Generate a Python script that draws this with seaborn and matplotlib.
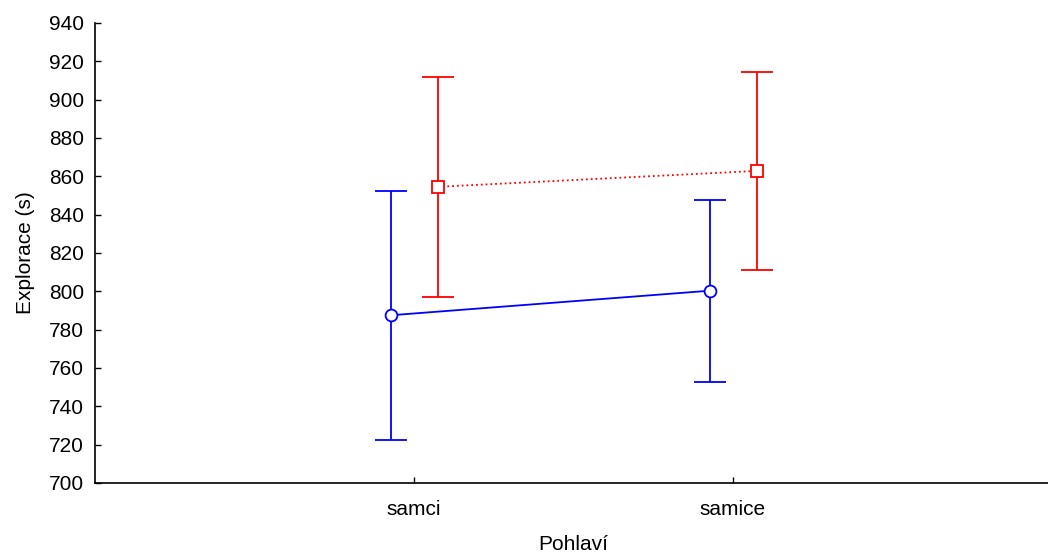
import matplotlib
matplotlib.use("Agg")
import matplotlib.pyplot as plt
import seaborn as sns
import pandas as pd
import numpy as np

# Group means and error half-widths per sex
categories = ["samci", "samice"]
blue_mean = [787.5, 800.3]
blue_err = [65.0, 47.5]
red_mean = [854.5, 862.8]
red_err = [57.3, 51.7]

sns.set_theme(style="ticks")
plt.rcParams["font.family"] = ["Liberation Sans", "DejaVu Sans"]

fig = plt.figure(figsize=(10.48, 5.59), dpi=100)
ax = fig.add_axes([0.0906, 0.136, 0.913, 0.823])

xpos = np.arange(len(categories))
series = [
    ("A", blue_mean, blue_err, -0.072, "#0000ff", "o", "-"),
    ("B", red_mean, red_err, 0.075, "#ff0000", "s", ":"),
]

for name, mean, err, off, color, marker, ls in series:
    df = pd.DataFrame({"x": xpos + off, "y": mean})
    ax.errorbar(df["x"], df["y"], yerr=err, fmt="none", ecolor=color,
                elinewidth=1.3, capsize=11.5, capthick=1.3, zorder=2)
    sns.lineplot(data=df, x="x", y="y", ax=ax, color=color, linestyle=ls,
                 linewidth=1.3, marker=marker, markersize=8.5 if marker == "o" else 8,
                 markerfacecolor="white", markeredgecolor=color,
                 markeredgewidth=1.3, zorder=3)

ax.set_xlim(-1, 2)
ax.set_ylim(700, 940)
ax.set_yticks(np.arange(700, 941, 20))
ax.set_xticks(xpos)
ax.set_xticklabels(categories)
ax.tick_params(axis="both", labelsize=15, colors="black", length=4, width=1,
               direction="in")
ax.tick_params(axis="y", pad=8)
ax.tick_params(axis="x", pad=12)
ax.set_xlabel("Pohlaví", fontsize=15, labelpad=12, color="black")
ax.set_ylabel("Explorace (s)", fontsize=15, labelpad=10, color="black")
for s in ["top", "right"]:
    ax.spines[s].set_visible(False)
for s in ["left", "bottom"]:
    ax.spines[s].set_color("black")
    ax.spines[s].set_linewidth(1.2)
ax.grid(False)

fig.savefig("out.png", dpi=100)
